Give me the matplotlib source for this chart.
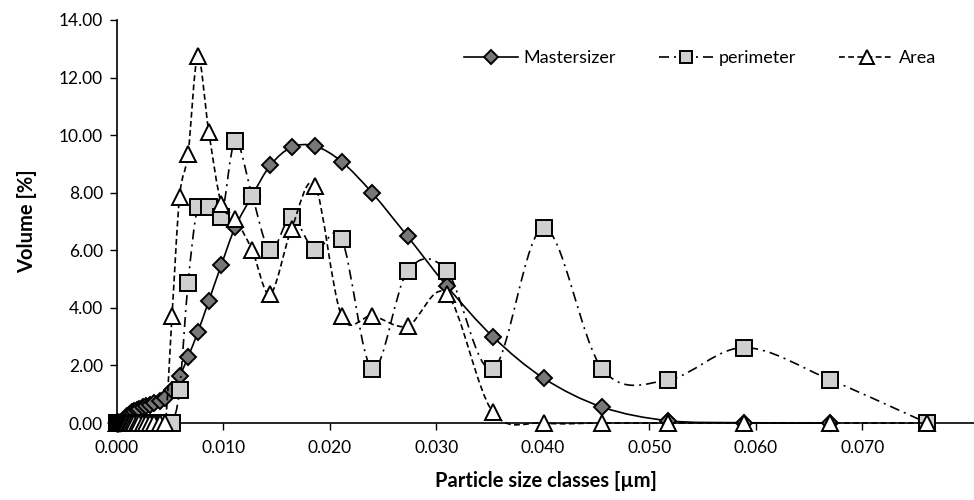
import numpy as np
import matplotlib
matplotlib.use("Agg")
import matplotlib.pyplot as plt
from matplotlib.path import Path
from matplotlib.patches import PathPatch
from matplotlib.lines import Line2D
from matplotlib.ticker import FormatStrFormatter, MultipleLocator

plt.rcParams['font.family'] = ['Lato', 'DejaVu Sans']

# Particle size classes [µm]
sizes = [0.000020, 0.000023, 0.000026, 0.000030, 0.000034, 0.000039, 0.000044,
         0.000050, 0.000057, 0.000065, 0.000074, 0.000084, 0.000095, 0.000108,
         0.000123, 0.000140, 0.000159, 0.000181,
         0.00021, 0.00024, 0.00027, 0.00031, 0.00035, 0.00040, 0.00045, 0.00052,
         0.00059, 0.00067, 0.00076, 0.00086, 0.00098,
         0.00111, 0.00126, 0.00144, 0.00163, 0.00185, 0.00211, 0.00240, 0.00272,
         0.00310, 0.00352, 0.00400, 0.00455,
         0.00517, 0.00588, 0.00668, 0.00759, 0.00863, 0.00981,
         0.0111, 0.0127, 0.0144, 0.0164, 0.0186, 0.0211, 0.0240, 0.0273, 0.0310,
         0.0353, 0.0401, 0.0456, 0.0518, 0.0589, 0.0670, 0.0761]

mastersizer = [0, 0, 0, 0, 0, 0, 0, 0, 0, 0, 0, 0, 0, 0, 0, 0, 0, 0,
               0, 0, 0, 0, 0, 0.01, 0.02, 0.04, 0.07, 0.10, 0.14, 0.19, 0.24,
               0.29, 0.33, 0.37, 0.41, 0.45, 0.49, 0.54, 0.59, 0.64, 0.70, 0.77, 0.88,
               1.15, 1.62, 2.30, 3.15, 4.25, 5.50,
               6.80, 7.90, 8.95, 9.58, 9.62, 9.08, 7.98, 6.48, 4.75,
               3.00, 1.55, 0.55, 0.08, 0.01, 0.00, np.nan]

perimeter = [0, 0, 0, 0, 0, 0, 0, 0, 0, 0, 0, 0, 0, 0, 0, 0, 0, 0,
             0, 0, 0, 0, 0, 0, 0, 0, 0, 0, 0, 0, 0,
             0, 0, 0, 0, 0, 0, 0, 0, 0, 0, 0, 0,
             0.00, 1.15, 4.87, 7.50, 7.50, 7.15,
             9.80, 7.90, 6.00, 7.15, 6.00, 6.40, 1.87, 5.28, 5.28,
             1.87, 6.78, 1.87, 1.50, 2.62, 1.50, 0.00]

area = [0, 0, 0, 0, 0, 0, 0, 0, 0, 0, 0, 0, 0, 0, 0, 0, 0, 0,
        0, 0, 0, 0, 0, 0, 0, 0, 0, 0, 0, 0, 0,
        0, 0, 0, 0, 0, 0, 0, 0, 0, 0, 0, 0,
        3.72, 7.86, 9.36, 12.74, 10.10, 7.60,
        7.10, 6.00, 4.48, 6.75, 8.25, 3.72, 3.72, 3.37, 4.48,
        0.38, 0.00, 0.00, 0.00, 0.00, 0.00, 0.00]

series_names = ["Mastersizer", "perimeter", "Area"]
x_ticks = [0.000, 0.010, 0.020, 0.030, 0.040, 0.050, 0.060, 0.070]


def smooth_path(x, y):
    pts = np.column_stack([x, y]).astype(float)
    pts = pts[~np.isnan(pts[:, 1])]
    n = len(pts)
    verts = [pts[0]]
    codes = [Path.MOVETO]
    for i in range(n - 1):
        p0 = pts[i - 1] if i > 0 else pts[i]
        p1 = pts[i]
        p2 = pts[i + 1]
        p3 = pts[i + 2] if i + 2 < n else pts[i + 1]
        c1 = p1 + (p2 - p0) / 6.0
        c2 = p2 - (p3 - p1) / 6.0
        verts += [c1, c2, p2]
        codes += [Path.CURVE4] * 3
    return Path(verts, codes)


fig = plt.figure(figsize=(9.74, 5.0), dpi=100)
ax = fig.add_axes([0.1201, 0.154, 0.8799, 0.806])

styles = [
    dict(data=mastersizer, ls='-', marker='D', ms=8.0, mfc='#777777'),
    dict(data=perimeter, ls=(0, (6, 3, 1.2, 3)), marker='s', ms=11, mfc='#d0d0d0'),
    dict(data=area, ls=(0, (3.5, 2)), marker='^', ms=12, mfc='white'),
]

handles = []
for z, (name, st) in enumerate(zip(series_names, styles)):
    path = smooth_path(sizes, st['data'])
    patch = PathPatch(path, fill=False, edgecolor='black', lw=1.2,
                      linestyle=st['ls'], zorder=2 + 2 * z, clip_on=False)
    ax.add_patch(patch)
    ax.plot(sizes, st['data'], linestyle='none', marker=st['marker'],
            ms=st['ms'], mfc=st['mfc'], mec='black', mew=1.4,
            zorder=3 + 2 * z, clip_on=False)
    handles.append(Line2D([], [], color='black', lw=1.2, linestyle=st['ls'],
                          marker=st['marker'], ms=st['ms'] * 0.85,
                          mfc=st['mfc'], mec='black', mew=1.4, label=name))

ax.set_xlim(0, 0.0805)
ax.set_ylim(0, 14)
ax.set_xticks(x_ticks)
ax.xaxis.set_major_formatter(FormatStrFormatter('%.3f'))
ax.yaxis.set_major_locator(MultipleLocator(2))
ax.yaxis.set_major_formatter(FormatStrFormatter('%.2f'))

for s in ['top', 'right']:
    ax.spines[s].set_visible(False)
for s in ['left', 'bottom']:
    ax.spines[s].set_linewidth(1.2)
    ax.spines[s].set_color('black')
ax.tick_params(axis='both', direction='out', length=5, width=1.0,
               labelsize=12.5, colors='black')
ax.tick_params(axis='x', pad=7)
ax.tick_params(axis='y', pad=5)

ax.set_xlabel('Particle size classes [µm]', fontsize=14.5, fontweight='bold', labelpad=11)
ax.set_ylabel('Volume [%]', fontsize=14.5, fontweight='bold', labelpad=16)

ax.legend(handles=handles, loc='upper right', bbox_to_anchor=(0.975, 0.965),
          ncol=3, frameon=False, fontsize=13, handlelength=3.0,
          columnspacing=2.4, handletextpad=0.3)

fig.savefig('out.png', dpi=100)
